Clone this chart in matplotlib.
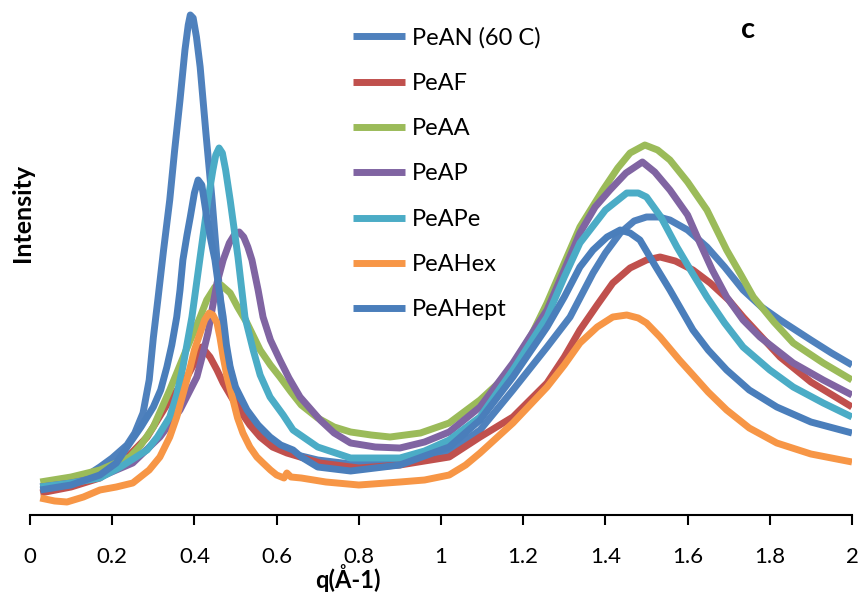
import matplotlib
matplotlib.use('Agg')
from matplotlib import pyplot as plt

# q values (1/A) and intensity (arbitrary units)
q_pean = [0.025, 0.06, 0.10, 0.14, 0.17, 0.20, 0.236, 0.255, 0.275, 0.29, 0.30, 0.311, 0.325,
          0.34, 0.352, 0.365, 0.377, 0.385, 0.39, 0.397, 0.405, 0.414, 0.428, 0.443, 0.455,
          0.465, 0.475, 0.49, 0.51, 0.53, 0.55, 0.575, 0.60, 0.65, 0.70, 0.78, 0.85, 0.90,
          0.96, 1.02, 1.095, 1.175, 1.258, 1.314, 1.37, 1.40, 1.436, 1.47, 1.50, 1.53, 1.557,
          1.60, 1.647, 1.69, 1.735, 1.78, 1.825, 1.90, 1.95, 2.0]
i_pean = [28, 30, 33, 40, 48, 57, 70, 82, 102, 135, 177, 215, 265,
          315, 365, 415, 465, 490, 500, 497, 478, 448, 382, 315, 255,
          205, 170, 140, 112, 95, 84, 75, 68, 60, 55, 51, 51, 52,
          56, 63, 85, 125, 168, 198, 242, 262, 282, 294, 298, 298, 295,
          285, 268, 248, 225, 208, 195, 175, 162, 150]

q_peaf = [0.025, 0.10, 0.17, 0.23, 0.285, 0.34, 0.382, 0.40, 0.418, 0.428, 0.438, 0.455,
          0.47, 0.49, 0.51, 0.535, 0.56, 0.59, 0.625, 0.706, 0.80, 0.90, 1.02, 1.095,
          1.175, 1.258, 1.30, 1.338, 1.38, 1.418, 1.46, 1.50, 1.533, 1.57, 1.613, 1.655,
          1.70, 1.735, 1.78, 1.825, 1.90, 2.0]
i_peaf = [22, 28, 37, 55, 78, 115, 138, 152, 168, 163, 158, 145,
          132, 118, 105, 90, 78, 68, 62, 52, 47, 50, 58, 78,
          98, 132, 158, 185, 210, 232, 247, 255, 258, 254, 245, 232,
          215, 198, 178, 158, 133, 108]

q_peaa = [0.025, 0.10, 0.17, 0.243, 0.27, 0.30, 0.34, 0.38, 0.414, 0.43, 0.45, 0.465,
          0.487, 0.505, 0.528, 0.56, 0.585, 0.608, 0.635, 0.66, 0.70, 0.74, 0.78, 0.83,
          0.876, 0.95, 1.02, 1.095, 1.14, 1.175, 1.22, 1.258, 1.30, 1.338, 1.394, 1.43,
          1.46, 1.496, 1.527, 1.557, 1.60, 1.647, 1.695, 1.73, 1.76, 1.81, 1.857, 1.93, 2.0]
i_peaa = [33, 38, 45, 58, 70, 88, 125, 165, 198, 215, 228, 230,
          222, 208, 192, 165, 150, 138, 123, 110, 97, 88, 83, 80,
          78, 82, 92, 115, 132, 150, 180, 212, 252, 288, 325, 347,
          362, 370, 365, 355, 333, 305, 265, 240, 218, 193, 172, 152, 135]

q_peap = [0.025, 0.10, 0.17, 0.25, 0.316, 0.365, 0.406, 0.42, 0.433, 0.445, 0.455, 0.47,
          0.485, 0.497, 0.509, 0.52, 0.53, 0.54, 0.555, 0.567, 0.585, 0.608, 0.63, 0.657,
          0.706, 0.74, 0.78, 0.84, 0.90, 0.96, 1.02, 1.095, 1.175, 1.258, 1.30, 1.338,
          1.375, 1.411, 1.45, 1.49, 1.52, 1.557, 1.60, 1.63, 1.66, 1.695, 1.735, 1.776,
          1.857, 1.93, 2.0]
i_peap = [28, 32, 38, 52, 78, 105, 138, 160, 182, 210, 232, 255,
          272, 280, 283, 278, 268, 255, 225, 198, 175, 155, 137, 118,
          95, 82, 72, 68, 67, 73, 83, 108, 152, 205, 245, 282,
          308, 325, 342, 353, 343, 325, 300, 272, 245, 218, 195, 178,
          152, 135, 120]

q_peape = [0.025, 0.10, 0.17, 0.22, 0.285, 0.31, 0.34, 0.357, 0.372, 0.394, 0.414, 0.433,
           0.445, 0.452, 0.46, 0.468, 0.476, 0.487, 0.506, 0.523, 0.543, 0.56, 0.584, 0.616,
           0.64, 0.70, 0.78, 0.90, 0.96, 1.02, 1.095, 1.175, 1.258, 1.30, 1.338, 1.40,
           1.452, 1.48, 1.50, 1.535, 1.574, 1.61, 1.647, 1.69, 1.735, 1.80, 1.857, 1.93, 2.0]
i_peape = [28, 32, 37, 48, 65, 78, 98, 120, 148, 198, 258, 315,
           345, 360, 367, 362, 345, 315, 258, 198, 165, 140, 118, 100,
           85, 68, 57, 57, 64, 75, 98, 145, 198, 238, 272, 305,
           322, 322, 318, 298, 268, 243, 218, 192, 168, 145, 128, 112, 98]

q_peahex = [0.025, 0.06, 0.09, 0.13, 0.17, 0.21, 0.25, 0.29, 0.316, 0.34, 0.357, 0.375,
            0.39, 0.40, 0.414, 0.425, 0.436, 0.445, 0.455, 0.462, 0.47, 0.48, 0.494, 0.505,
            0.518, 0.535, 0.552, 0.567, 0.585, 0.60, 0.618, 0.625, 0.635, 0.66, 0.72, 0.80,
            0.90, 0.96, 1.02, 1.06, 1.095, 1.175, 1.258, 1.30, 1.338, 1.38, 1.418, 1.452,
            1.48, 1.50, 1.533, 1.58, 1.613, 1.65, 1.695, 1.75, 1.817, 1.90, 2.0]
i_peahex = [17, 14, 13, 18, 25, 28, 32, 45, 58, 78, 98, 125,
            148, 165, 182, 195, 202, 200, 192, 178, 158, 137, 115, 97,
            82, 68, 58, 52, 45, 40, 37, 42, 38, 37, 33, 30,
            33, 35, 40, 50, 62, 92, 128, 150, 172, 188, 198, 200,
            197, 192, 178, 155, 140, 123, 105, 87, 72, 61, 53]

q_peahept = [0.025, 0.10, 0.17, 0.21, 0.243, 0.27, 0.30, 0.318, 0.333, 0.345, 0.357, 0.365,
             0.372, 0.382, 0.39, 0.40, 0.409, 0.418, 0.43, 0.44, 0.45, 0.46, 0.47, 0.478,
             0.487, 0.50, 0.528, 0.555, 0.584, 0.61, 0.64, 0.66, 0.70, 0.78, 0.90, 1.02,
             1.095, 1.175, 1.258, 1.30, 1.338, 1.37, 1.404, 1.436, 1.46, 1.484, 1.52, 1.557,
             1.613, 1.65, 1.695, 1.75, 1.817, 1.90, 2.0]
i_peahept = [25, 30, 40, 52, 72, 88, 108, 125, 148, 170, 198, 225,
             255, 280, 298, 322, 335, 330, 298, 275, 255, 225, 198, 170,
             148, 128, 105, 90, 78, 70, 65, 58, 48, 44, 50, 68,
             95, 138, 188, 218, 248, 265, 278, 285, 282, 275, 250, 225,
             185, 165, 145, 125, 108, 93, 82]

labels = ['PeAN (60 C)', 'PeAF', 'PeAA', 'PeAP', 'PeAPe', 'PeAHex', 'PeAHept']
colors = ['#4F81BD', '#C0504D', '#9BBB59', '#8064A2', '#4BACC6', '#F79646', '#4A7EBB']
series = [(q_pean, i_pean), (q_peaf, i_peaf), (q_peaa, i_peaa), (q_peap, i_peap),
          (q_peape, i_peape), (q_peahex, i_peahex), (q_peahept, i_peahept)]
xticks = [0, 0.2, 0.4, 0.6, 0.8, 1, 1.2, 1.4, 1.6, 1.8, 2]
xtick_labels = ['0', '0.2', '0.4', '0.6', '0.8', '1', '1.2', '1.4', '1.6', '1.8', '2']

plt.rcParams['font.family'] = ['Lato', 'DejaVu Sans']

W, H = 863, 592
fig = plt.figure(figsize=(W / 100, H / 100), dpi=100)
ax = fig.add_axes([30 / W, (H - 515) / H, (852 - 30) / W, 515 / H])

for (q, inten), lab, col in zip(series, labels, colors):
    ax.plot(q, inten, color=col, lw=5, label=lab, solid_joinstyle='round', solid_capstyle='butt')

ax.set_xlim(0, 2)
ax.set_ylim(0, 515)
ax.set_xticks(xticks)
ax.set_xticklabels(xtick_labels)
ax.set_yticks([])
for s in ['top', 'right', 'left']:
    ax.spines[s].set_visible(False)
ax.spines['bottom'].set_linewidth(1.5)
ax.tick_params(axis='x', direction='out', length=7, width=1.5, pad=16, labelsize=16)

fig.text(348 / W, 1 - 578 / H, 'q(Å-1)', ha='center', va='center', fontsize=17, fontweight='bold')
fig.text(22 / W, 1 - 213 / H, 'Intensity', ha='center', va='center', rotation=90,
         fontsize=18, fontweight='bold')
fig.text(748 / W, 1 - 30 / H, 'c', ha='center', va='center', fontsize=21, fontweight='bold')

ax.legend(loc='upper left', bbox_to_anchor=(353 / W, 1 - 27 / H), bbox_transform=fig.transFigure,
          frameon=False, fontsize=17, handlelength=2.2, handletextpad=0.3,
          labelspacing=1.03, borderpad=0, borderaxespad=0)

fig.savefig('out.png', dpi=100)
